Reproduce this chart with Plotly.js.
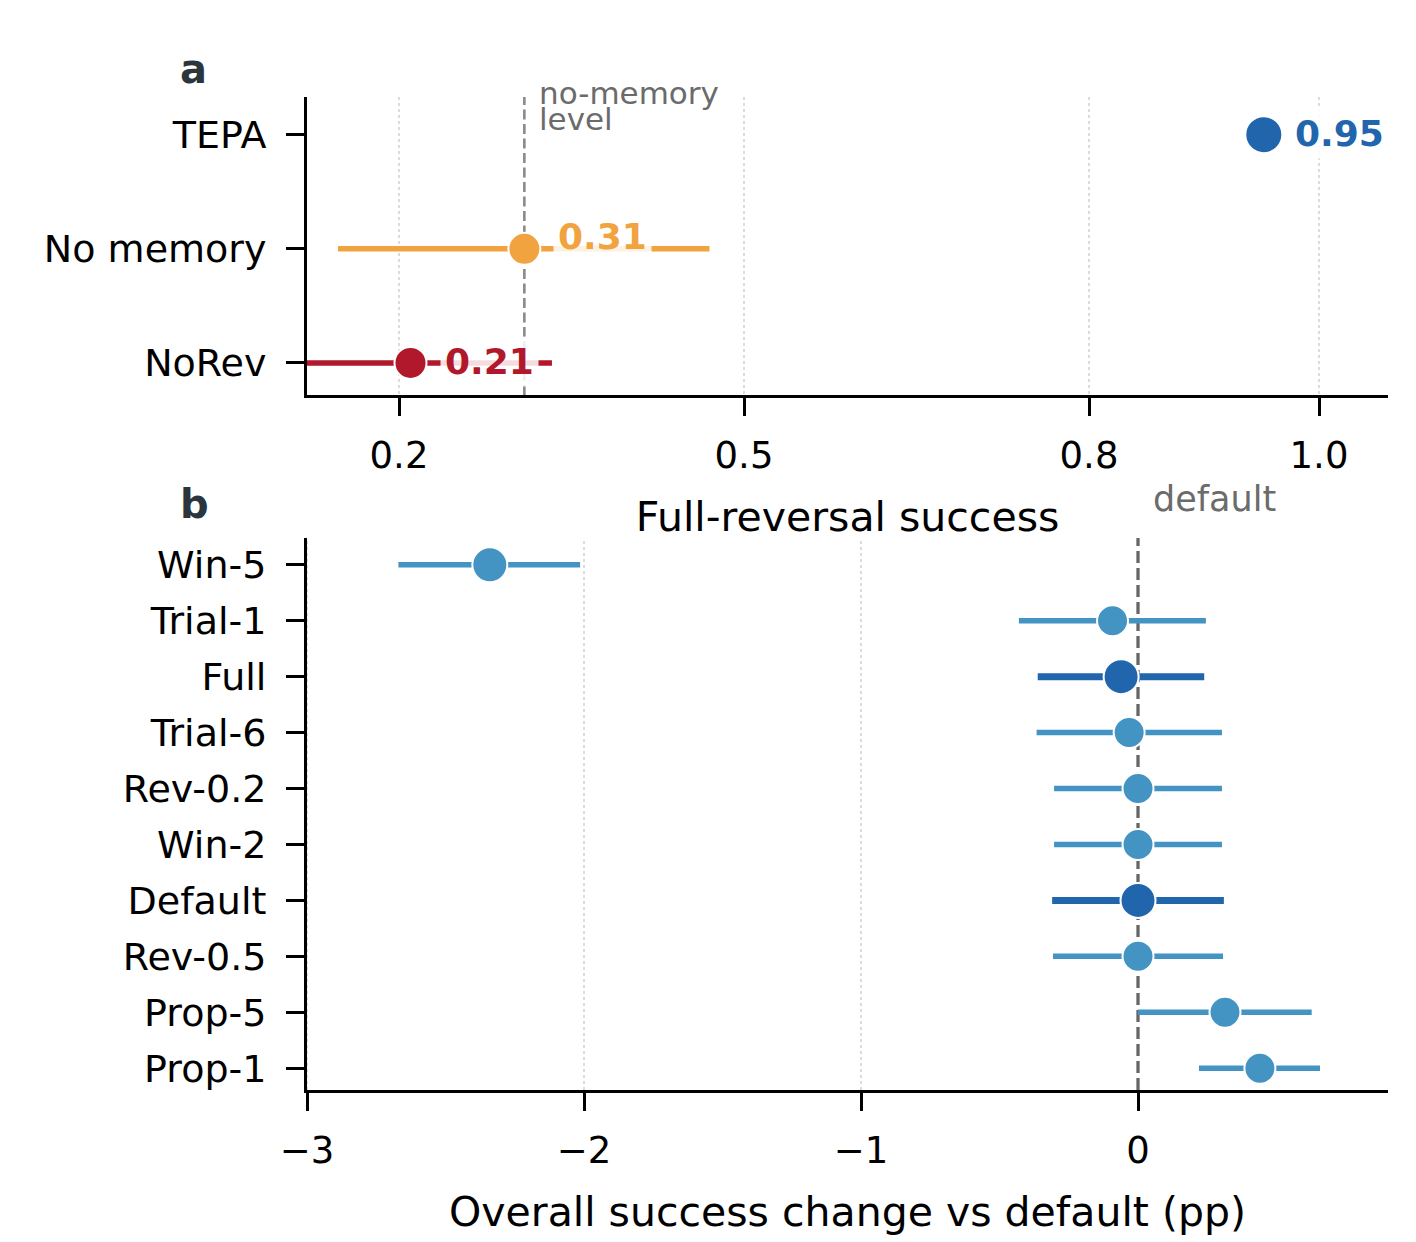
<!DOCTYPE html>
<html>
<head>
<meta charset="utf-8">
<script src="https://cdn.plot.ly/plotly-3.0.1.min.js"></script>
<style>html,body{margin:0;padding:0;background:#fff;}#chart{width:1416px;height:1242px;}</style>
</head>
<body>
<div id="chart"></div>
<script>
// ---------- Panel a data ----------
const topCategories = ['NoRev', 'No memory', 'TEPA'];
const topValues     = [0.21, 0.309, 0.952];
const topLow        = [0.12, 0.147, 0.946];
const topHigh       = [0.333, 0.470, 0.958];
const topLabels     = ['0.21', '0.31', '0.95'];
const noMemoryLevel = 0.309;
const topTickVals   = [0.2, 0.5, 0.8, 1.0];
const topTickText   = ['0.2', '0.5', '0.8', '1.0'];

// ---------- Panel b data (top to bottom) ----------
const botCategories = ['Win-5', 'Trial-1', 'Full', 'Trial-6', 'Rev-0.2', 'Win-2', 'Default', 'Rev-0.5', 'Prop-5', 'Prop-1'];
const botValues     = [-2.34, -0.092, -0.061, -0.032, 0.0, 0.0, 0.0, 0.0, 0.314, 0.44];
const botLow        = [-2.670, -0.430, -0.362, -0.366, -0.303, -0.303, -0.310, -0.307, 0.0, 0.220];
const botHigh       = [-2.014, 0.245, 0.239, 0.303, 0.303, 0.303, 0.310, 0.307, 0.627, 0.657];
const botTickVals   = [-3, -2, -1, 0];
const defaultLevel  = 0;

// ---------- styles ----------
const FONT = 'DejaVu Sans';
const topColors = {'NoRev': '#b2182b', 'No memory': '#f1a340', 'TEPA': '#2166ac'};
const topMarkerSize = {'NoRev': 32, 'No memory': 32, 'TEPA': 37};
const topLabelShift = {'NoRev': 29, 'No memory': 29, 'TEPA': 26};
const topLabelYShift = {'NoRev': 1, 'No memory': 12, 'TEPA': 1};
const emphasized = ['Full', 'Default'];
const bigMarkers = ['Win-5', 'Full', 'Default'];
const lightBlue = '#4393c3', darkBlue = '#2166ac';
const GRID = {color: '#dcdcdc', width: 2, dash: 'dot'};

const traces = [];
topCategories.forEach((c, i) => {
  traces.push({
    type: 'scatter', mode: 'markers', xaxis: 'x', yaxis: 'y',
    x: [topValues[i]], y: [c],
    error_x: {type: 'data', symmetric: false,
      array: [topHigh[i] - topValues[i]], arrayminus: [topValues[i] - topLow[i]],
      color: topColors[c], thickness: 5.5, width: 0},
    marker: {color: topColors[c], size: topMarkerSize[c], line: {color: '#ffffff', width: 2}},
    showlegend: false, hoverinfo: 'skip', cliponaxis: true
  });
});
botCategories.forEach((c, i) => {
  const emph = emphasized.includes(c);
  const col = emph ? darkBlue : lightBlue;
  traces.push({
    type: 'scatter', mode: 'markers', xaxis: 'x2', yaxis: 'y2',
    x: [botValues[i]], y: [c],
    error_x: {type: 'data', symmetric: false,
      array: [botHigh[i] - botValues[i]], arrayminus: [botValues[i] - botLow[i]],
      color: col, thickness: emph ? 7 : 5.5, width: 0},
    marker: {color: col, size: bigMarkers.includes(c) ? 35 : 31, line: {color: '#ffffff', width: 2}},
    showlegend: false, hoverinfo: 'skip'
  });
});

const annotations = [];
topCategories.forEach((c, i) => {
  annotations.push({
    xref: 'x', yref: 'y', x: topValues[i], y: c, text: '<b>' + topLabels[i] + '</b>',
    showarrow: false, xanchor: 'left', yanchor: 'middle',
    xshift: topLabelShift[c], yshift: topLabelYShift[c],
    font: {family: FONT, size: 36, color: topColors[c]},
    bgcolor: 'rgba(255,255,255,0.85)', borderpad: 4
  });
});
annotations.push(
  {xref: 'x', yref: 'y domain', x: noMemoryLevel, y: 1, text: 'no-memory', showarrow: false,
   xanchor: 'left', yanchor: 'middle', xshift: 13, yshift: 4, font: {family: FONT, size: 31, color: '#6b6b6b'}},
  {xref: 'x', yref: 'y domain', x: noMemoryLevel, y: 1, text: 'level', showarrow: false,
   xanchor: 'left', yanchor: 'middle', xshift: 13, yshift: -22, font: {family: FONT, size: 31, color: '#6b6b6b'}},
  {xref: 'x2', yref: 'y2 domain', x: defaultLevel, y: 1, text: 'default', showarrow: false,
   xanchor: 'left', yanchor: 'middle', xshift: 13, yshift: 39, font: {family: FONT, size: 35, color: '#6b6b6b'}},
  {xref: 'paper', yref: 'paper', x: -0.1195, y: 1.0282, text: '<b>a</b>', showarrow: false,
   xanchor: 'left', yanchor: 'middle', font: {family: FONT, size: 40, color: '#2b353d'}},
  {xref: 'paper', yref: 'paper', x: -0.1195, y: 0.590, text: '<b>b</b>', showarrow: false,
   xanchor: 'left', yanchor: 'middle', font: {family: FONT, size: 40, color: '#2b353d'}}
);

// bottom-panel grid drawn as shapes so the dashed reference line sits on top of it
const shapes = [];
botTickVals.filter(v => v !== defaultLevel).forEach(v => {
  shapes.push({type: 'line', xref: 'x2', yref: 'y2 domain', x0: v, x1: v, y0: 0, y1: 1,
    line: GRID, layer: 'below'});
});
shapes.push(
  {type: 'line', xref: 'x', yref: 'y domain', x0: noMemoryLevel, x1: noMemoryLevel, y0: 0, y1: 1,
   line: {color: '#8a8a8a', width: 2.6, dash: '10px,4.5px'}, layer: 'below'},
  {type: 'line', xref: 'x2', yref: 'y2 domain', x0: defaultLevel, x1: defaultLevel, y0: 0, y1: 1,
   line: {color: '#666666', width: 3.3, dash: '12px,5px'}, layer: 'below'}
);

const axCommon = {
  showline: true, linecolor: '#000', linewidth: 3, ticks: 'outside', ticklen: 18, tickwidth: 3,
  tickcolor: '#000', zeroline: false, fixedrange: true
};
const xTickFont = {family: FONT, size: 37, color: '#000'};
const yTickFont = {family: FONT, size: 38, color: '#000'};
const layout = {
  width: 1416, height: 1242,
  margin: {l: 307, r: 28, t: 97, b: 152, pad: 0},
  paper_bgcolor: '#fff', plot_bgcolor: '#fff',
  font: {family: FONT, color: '#000'},
  showlegend: false,
  xaxis: Object.assign({}, axCommon, {
    domain: [0, 1], anchor: 'y', range: [0.12, 1.06], tickvals: topTickVals, ticktext: topTickText,
    tickfont: xTickFont,
    showgrid: true, gridcolor: GRID.color, griddash: 'dot', gridwidth: GRID.width, ticklabelstandoff: 8,
    title: {text: 'Full-reversal success', font: {family: FONT, size: 41, color: '#000'}, standoff: 27}
  }),
  yaxis: Object.assign({}, axCommon, {
    domain: [0.700, 1], anchor: 'x', type: 'category', categoryorder: 'array', categoryarray: topCategories,
    tickfont: yTickFont, range: [-0.28, 2.33], showgrid: false, ticklabelstandoff: 12
  }),
  xaxis2: Object.assign({}, axCommon, {
    domain: [0, 1], anchor: 'y2', range: [-3, 0.9025], tickvals: botTickVals,
    tickfont: xTickFont, showgrid: false, ticklabelstandoff: 8,
    title: {text: 'Overall success change vs default (pp)', font: {family: FONT, size: 41, color: '#000'}, standoff: 26}
  }),
  yaxis2: Object.assign({}, axCommon, {
    domain: [0, 0.5559], anchor: 'x2', type: 'category', categoryorder: 'array',
    tickfont: yTickFont,
    categoryarray: botCategories.slice().reverse(), range: [-0.39, 9.48], showgrid: false, ticklabelstandoff: 12
  }),
  shapes: shapes,
  annotations: annotations
};
Plotly.newPlot('chart', traces, layout, {displayModeBar: false, staticPlot: true});
</script>
</body>
</html>
